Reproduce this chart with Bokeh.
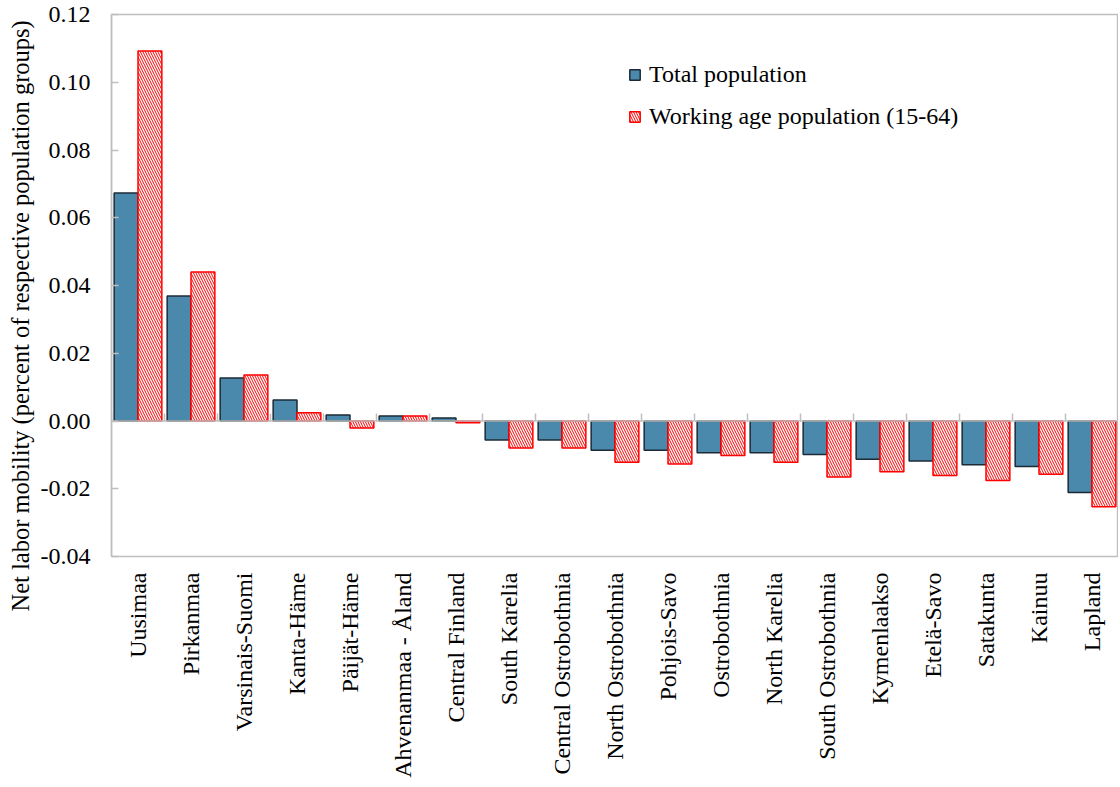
import math
from bokeh.plotting import figure
from bokeh.models import Range1d, FixedTicker, Span, Legend, LegendItem, Title, ColumnDataSource
from bokeh.embed import file_html
from bokeh.resources import INLINE

categories = ["Uusimaa", "Pirkanmaa", "Varsinais-Suomi", "Kanta-Häme", "Päijät-Häme",
              "Ahvenanmaa - Åland", "Central Finland", "South Karelia", "Central Ostrobothnia",
              "North Ostrobothnia", "Pohjois-Savo", "Ostrobothnia", "North Karelia",
              "South Ostrobothnia", "Kymenlaakso", "Etelä-Savo", "Satakunta", "Kainuu", "Lapland"]
total_population = [0.0673, 0.0369, 0.0127, 0.0062, 0.0018, 0.0015, 0.0009, -0.0056, -0.0056,
                    -0.0086, -0.0086, -0.0094, -0.0094, -0.0099, -0.0113, -0.0118, -0.0129,
                    -0.0134, -0.0211]
working_age = [0.1092, 0.0440, 0.0136, 0.0024, -0.0021, 0.0015, -0.0005, -0.0080, -0.0080,
               -0.0122, -0.0127, -0.0102, -0.0122, -0.0165, -0.0150, -0.0161, -0.0176,
               -0.0157, -0.0253]
y_ticks = [-0.04, -0.02, 0.0, 0.02, 0.04, 0.06, 0.08, 0.10, 0.12]
y_label = "Net labor mobility (percent of respective population groups)"
legend_labels = ["Total population", "Working age population (15-64)"]

FONT = "Liberation Serif"
FS = "24px"
GREY = "#bfbfbf"
BLUE = "#4a89ab"
n = len(categories)
idx = list(range(n))

src = ColumnDataSource(dict(
    xb=[i + 0.275 for i in idx],
    xr=[i + 0.725 for i in idx],
    tot=total_population,
    work=working_age,
))

p = figure(width=1118, height=786, output_backend="svg", toolbar_location=None,
           x_range=Range1d(0, n), y_range=Range1d(-0.04, 0.12),
           min_border_left=110, min_border_top=14, min_border_right=0, min_border_bottom=230)
p.xgrid.visible = False
p.ygrid.visible = False
p.outline_line_color = GREY
p.outline_line_width = 1.5
p.background_fill_color = "white"
p.border_fill_color = "white"

# zero line with boundary ticks
p.add_layout(Span(location=0, dimension="width", line_color=GREY, line_width=1.5))
p.segment(x0=list(range(n + 1)), y0=[0] * (n + 1), x1=list(range(n + 1)),
          y1=[0.0022] * (n + 1), line_color=GREY, line_width=1.5)

rb = p.vbar(x="xb", top="tot", bottom=0, width=0.45, source=src,
            fill_color=BLUE, line_color="#1c2b36", line_width=1.5)
rr = p.vbar(x="xr", top="work", bottom=0, width=0.45, source=src,
            fill_color="white", line_color="red", line_width=1.5,
            hatch_pattern="\\", hatch_color="red", hatch_weight=1.0, hatch_scale=5)

# x axis
xa = p.xaxis[0]
xa.ticker = FixedTicker(ticks=[i + 0.5 for i in idx])
xa.major_label_overrides = {i + 0.5: c for i, c in enumerate(categories)}
xa.major_label_orientation = math.pi / 2
xa.major_label_text_font = FONT
xa.major_label_text_font_size = FS
xa.major_label_text_color = "black"
xa.major_label_standoff = 10
xa.major_tick_line_color = None
xa.minor_tick_line_color = None
xa.axis_line_color = None

# y axis
p.yaxis.ticker = FixedTicker(ticks=y_ticks)
p.yaxis.major_label_overrides = {t: f"{t:.2f}" for t in y_ticks}
p.yaxis.major_label_text_font = FONT
p.yaxis.major_label_text_font_size = FS
p.yaxis.major_label_text_color = "black"
p.yaxis.major_tick_in = 7
p.yaxis.major_tick_out = 0
p.yaxis.major_tick_line_color = GREY
p.yaxis.major_tick_line_width = 1.5
p.yaxis.minor_tick_line_color = None
p.yaxis.axis_line_color = GREY
p.yaxis.axis_line_width = 1.5
p.yaxis.major_label_standoff = 21

p.add_layout(Title(text=y_label, align="left", offset=-55, standoff=8,
                   text_font=FONT, text_font_size="24.5px", text_font_style="normal",
                   text_color="black"), "left")

legend = Legend(items=[LegendItem(label=legend_labels[0], renderers=[rb]),
                       LegendItem(label=legend_labels[1], renderers=[rr])],
                location=(517, 426), orientation="vertical")
legend.background_fill_alpha = 0
legend.border_line_color = None
legend.padding = 0
legend.margin = 0
legend.spacing = 14
legend.label_height = 28
legend.glyph_height = 13
legend.glyph_width = 13
legend.label_standoff = 8
legend.label_text_font = FONT
legend.label_text_font_size = FS
legend.label_text_color = "black"
p.add_layout(legend)

open("out.html", "w").write(file_html(p, INLINE))
